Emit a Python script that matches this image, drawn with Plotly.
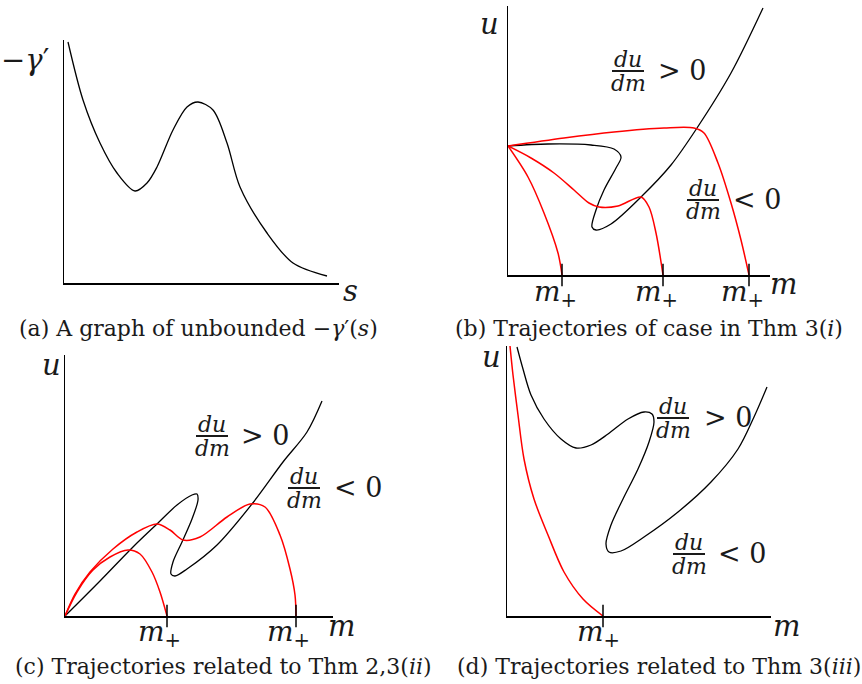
import plotly.graph_objects as go

W, H = 862, 684

# ---------------- data (arbitrary units, schematic) ----------------
# (a) -gamma'(s)
a_s = [4, 19, 36, 53, 71, 83, 93, 109, 123, 134, 149, 163, 176, 203, 229, 263]
a_g = [241, 183, 140, 110, 92, 100, 116, 153, 176, 181, 173, 140, 96, 50, 20, 7]

# (b) Thm 3(i)
b_crit_m = [0, 40, 83, 106, 113, 108, 96, 88, 84, 88, 103, 133, 163, 189, 223, 255]
b_crit_u = [129, 131, 130, 126, 118, 107, 85, 65, 48, 45, 51, 78, 110, 147, 202, 267]
b_tr1_m = [0, 56, 106, 156, 186, 196, 210, 223, 233, 241]
b_tr1_u = [129, 137, 143, 147, 147, 142, 112, 72, 35, 0]
b_tr2_m = [0, 23, 46, 66, 81, 91, 110, 133, 141, 148, 155]
b_tr2_u = [129, 117, 102, 85, 72, 68, 69, 78, 68, 42, 0]
b_tr3_m = [0, 20, 36, 50, 54]
b_tr3_u = [129, 98, 62, 22, 0]
b_mplus = [54, 155, 241]

# (c) Thm 2,3(ii)
c_crit_m = [0, 35, 68, 92, 112, 127, 132, 133, 127, 117, 108, 106, 110, 122, 152, 187, 218, 242, 257]
c_crit_u = [0, 35, 69, 92, 111, 121, 122, 116, 97, 74, 54, 42, 40, 47, 71, 112, 154, 184, 215]
c_tr1_m = [0, 10, 25, 48, 72, 92, 105, 118, 135, 162, 185, 200, 215, 225, 230, 231]
c_tr1_u = [0, 22, 44, 67, 84, 92, 86, 76, 79, 99, 112, 109, 81, 47, 21, 0]
c_tr2_m = [0, 12, 28, 45, 63, 75, 87, 95, 102]
c_tr2_u = [0, 24, 46, 59, 66, 62, 44, 24, 0]
c_mplus = [102, 231]

# (d) Thm 3(iii)
d_crit_m = [10, 16, 24, 37, 54, 69, 84, 101, 121, 137, 145, 147, 142, 131, 116, 104, 99, 102, 114, 137, 171, 204, 231, 247, 260]
d_crit_u = [269, 247, 221, 197, 177, 168, 171, 182, 197, 204, 202, 194, 174, 147, 117, 91, 72, 64, 65, 79, 104, 134, 167, 199, 229]
d_tr_m = [3, 6, 11, 17, 27, 41, 57, 76, 96]
d_tr_u = [270, 241, 201, 157, 117, 81, 44, 17, 0]
d_mplus = [96]

# ---------------- layout helpers ----------------
FONT = "DejaVu Serif"
RED = "#ff0000"
INK = "#1a1a1a"

panels = {
    # name: (x0, y_top, x1, y_bottom) in pixels
    "a": (64, 40, 339, 283),
    "b": (508, 6, 770, 275),
    "c": (65, 355, 333, 616),
    "d": (507, 346, 771, 616),
}
axid = {"a": 1, "b": 2, "c": 3, "d": 4}

fig = go.Figure()


def ax_names(p):
    i = axid[p]
    return ("x" if i == 1 else f"x{i}"), ("y" if i == 1 else f"y{i}")


def add_line(p, xs, ys, color, width=1.3):
    xa, ya = ax_names(p)
    fig.add_trace(go.Scatter(x=xs, y=ys, mode="lines", xaxis=xa, yaxis=ya,
                             line=dict(color=color, width=width, shape="spline", smoothing=0.9),
                             hoverinfo="skip", showlegend=False))


def add_ticks(p, xs):
    xa, ya = ax_names(p)
    fig.add_trace(go.Scatter(x=xs, y=[0] * len(xs), mode="markers", xaxis=xa, yaxis=ya,
                             marker=dict(symbol="line-ns", size=16, color="black",
                                         line=dict(color="black", width=1.5)),
                             cliponaxis=False, hoverinfo="skip", showlegend=False))


add_line("a", a_s, a_g, "black")

add_line("b", b_crit_m, b_crit_u, "black")
add_line("b", b_tr1_m, b_tr1_u, RED, 1.5)
add_line("b", b_tr2_m, b_tr2_u, RED, 1.5)
add_line("b", b_tr3_m, b_tr3_u, RED, 1.5)
add_ticks("b", b_mplus)

add_line("c", c_crit_m, c_crit_u, "black")
add_line("c", c_tr1_m, c_tr1_u, RED, 1.5)
add_line("c", c_tr2_m, c_tr2_u, RED, 1.5)
add_ticks("c", c_mplus)

add_line("d", d_crit_m, d_crit_u, "black")
add_line("d", d_tr_m, d_tr_u, RED, 1.5)
add_ticks("d", d_mplus)

layout = dict(width=W, height=H, margin=dict(l=0, r=0, t=0, b=0),
              paper_bgcolor="white", plot_bgcolor="white", showlegend=False,
              hovermode=False, font=dict(family=FONT, color=INK))

for p, (x0, yt, x1, yb) in panels.items():
    i = axid[p]
    kx = "xaxis" if i == 1 else f"xaxis{i}"
    ky = "yaxis" if i == 1 else f"yaxis{i}"
    ax_common = dict(showgrid=False, zeroline=False, showticklabels=False, ticks="",
                     showline=True, linecolor="black", linewidth=1.5, mirror=False,
                     fixedrange=True)
    layout[kx] = dict(domain=[x0 / W, x1 / W], range=[0, x1 - x0],
                      anchor=("y" if i == 1 else f"y{i}"), **ax_common)
    layout[ky] = dict(domain=[1 - yb / H, 1 - yt / H], range=[0, yb - yt],
                      anchor=("x" if i == 1 else f"x{i}"), **ax_common)

fig.update_layout(**layout)


def px(x):
    return x / W


def py(y):
    return 1 - y / H


def text(x, y, s, size, xanchor="center"):
    fig.add_annotation(x=px(x), y=py(y), xref="paper", yref="paper", text=s,
                       showarrow=False, xanchor=xanchor, yanchor="middle", borderpad=0,
                       font=dict(family=FONT, size=size, color=INK))


def frac(cx, ybar, sign, sx, sy):
    text(cx, ybar - 12, "<i>du</i>", 22)
    text(cx, ybar + 12, "<i>dm</i>", 22)
    fig.add_shape(type="line", xref="paper", yref="paper",
                  x0=px(cx - 16), x1=px(cx + 16), y0=py(ybar), y1=py(ybar),
                  line=dict(color=INK, width=2))
    text(sx, sy, sign, 27)


LAB = 29
CAP = 22
MP = "<i>m</i><sub>+</sub>"

# (a)
text(25, 60, "−<i>γ</i>′", LAB)
text(350, 291, "<i>s</i>", LAB)
text(198, 328, "(a) A graph of unbounded −<i>γ</i>′(<i>s</i>)", CAP)

# (b)
text(489, 24, "<i>u</i>", LAB)
text(784, 284, "<i>m</i>", LAB)
for m in b_mplus:
    text(508 + m - 7, 293, MP, 28)
frac(628, 71, "&gt; 0", 682, 71)
frac(703, 200, "&lt; 0", 757, 199)
text(649, 328, "(b) Trajectories of case in Thm 3(<i>i</i>)", CAP)

# (c)
text(51, 365, "<i>u</i>", LAB)
text(342, 626, "<i>m</i>", LAB)
for m in c_mplus:
    text(65 + m - 8, 633, MP, 28)
frac(212, 436, "&gt; 0", 265, 435)
frac(304, 488, "&lt; 0", 358, 487)
text(223, 666, "(c) Trajectories related to Thm 2,3(<i>ii</i>)", CAP)

# (d)
text(491, 357, "<i>u</i>", LAB)
text(787, 626, "<i>m</i>", LAB)
for m in d_mplus:
    text(507 + m - 5, 633, MP, 28)
frac(673, 418, "&gt; 0", 728, 417)
frac(689, 554, "&lt; 0", 742, 553)
text(659, 666, "(d) Trajectories related to Thm 3(<i>iii</i>)", CAP)

fig.write_html("out.html", config={"displayModeBar": False, "staticPlot": True},
               post_script="document.body.style.margin='0';document.body.style.padding='0';")
